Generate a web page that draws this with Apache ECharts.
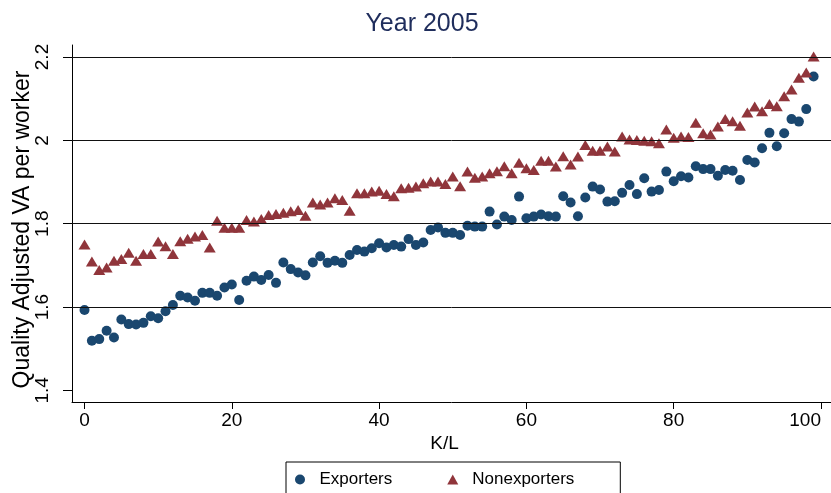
<!DOCTYPE html>
<html>
<head>
<meta charset="utf-8">
<script src="https://cdn.jsdelivr.net/npm/echarts@6/dist/echarts.min.js"></script>
<style>
  html, body { margin: 0; padding: 0; background: #fff; }
  #chart { width: 831px; height: 493px; }
</style>
</head>
<body>
<div id="chart"></div>
<script>
// K/L percentile (x)
const klPercentile = [
  0, 1, 2, 3, 4, 5, 6, 7, 8, 9, 10, 11, 12, 13, 14, 15, 16, 17, 18, 19,
  20, 21, 22, 23, 24, 25, 26, 27, 28, 29, 30, 31, 32, 33, 34, 35, 36, 37, 38, 39,
  40, 41, 42, 43, 44, 45, 46, 47, 48, 49, 50, 51, 52, 53, 54, 55, 56, 57, 58, 59,
  60, 61, 62, 63, 64, 65, 66, 67, 68, 69, 70, 71, 72, 73, 74, 75, 76, 77, 78, 79,
  80, 81, 82, 83, 84, 85, 86, 87, 88, 89, 90, 91, 92, 93, 94, 95, 96, 97, 98, 99
];

// quality adjusted VA per worker
const exporters = [
  1.593, 1.519, 1.523, 1.543, 1.527, 1.570, 1.559, 1.558, 1.562, 1.578,
  1.573, 1.590, 1.605, 1.627, 1.623, 1.615, 1.634, 1.634, 1.627, 1.647,
  1.654, 1.617, 1.663, 1.673, 1.665, 1.677, 1.658, 1.707, 1.691, 1.683,
  1.676, 1.707, 1.722, 1.706, 1.711, 1.706, 1.725, 1.737, 1.733, 1.741,
  1.753, 1.743, 1.749, 1.745, 1.763, 1.749, 1.755, 1.785, 1.791, 1.778,
  1.778, 1.773, 1.795, 1.793, 1.793, 1.829, 1.798, 1.817, 1.809, 1.865,
  1.813, 1.817, 1.822, 1.818, 1.817, 1.866, 1.851, 1.818, 1.863, 1.889,
  1.882, 1.853, 1.854, 1.874, 1.893, 1.871, 1.909, 1.877, 1.881, 1.925,
  1.902, 1.914, 1.911, 1.938, 1.931, 1.931, 1.915, 1.929, 1.927, 1.905,
  1.953, 1.947, 1.981, 2.018, 1.986, 2.017, 2.051, 2.045, 2.075, 2.153
];
const nonexporters = [
  1.750, 1.709, 1.689, 1.695, 1.711, 1.715, 1.730, 1.711, 1.727, 1.727,
  1.757, 1.746, 1.727, 1.758, 1.764, 1.769, 1.773, 1.743, 1.807, 1.790,
  1.790, 1.790, 1.809, 1.805, 1.811, 1.821, 1.823, 1.826, 1.830, 1.833,
  1.819, 1.851, 1.846, 1.851, 1.861, 1.857, 1.831, 1.873, 1.873, 1.877,
  1.879, 1.871, 1.866, 1.885, 1.886, 1.889, 1.897, 1.901, 1.901, 1.895,
  1.913, 1.890, 1.925, 1.910, 1.913, 1.921, 1.926, 1.938, 1.921, 1.946,
  1.933, 1.929, 1.951, 1.951, 1.937, 1.962, 1.942, 1.961, 1.989, 1.975,
  1.975, 1.985, 1.973, 2.009, 2.002, 2.001, 1.999, 1.998, 1.993, 2.026,
  2.006, 2.009, 2.008, 2.042, 2.017, 2.014, 2.033, 2.051, 2.046, 2.035,
  2.067, 2.081, 2.070, 2.087, 2.082, 2.106, 2.122, 2.150, 2.163, 2.201
];

const xTicks = [0, 20, 40, 60, 80, 100];
const yTicks = [1.4, 1.6, 1.8, 2.0, 2.2];
const yGrid = [1.6, 1.8, 2.0, 2.2];

const FONT = 'Liberation Sans';
const navy = '#1a476f';
const maroon = '#90353b';

function pairs(ys) {
  return ys.map((v, i) => [klPercentile[i], v]);
}

let myChart = echarts.init(document.getElementById('chart'), null, { renderer: 'canvas' });

myChart.setOption({
  backgroundColor: '#fff',
  animation: false,
  title: {
    text: 'Year 2005',
    left: 417,
    top: 7,
    textAlign: 'center',
    textStyle: { fontFamily: FONT, fontSize: 25, fontWeight: 'normal', color: '#1f2d5c' }
  },
  legend: {
    data: ['Exporters', 'Nonexporters'],
    left: 286,
    top: 462,
    orient: 'horizontal',
    itemWidth: 11,
    itemHeight: 10,
    itemGap: 55,
    padding: [9, 46, 30, 9],
    borderColor: '#000',
    borderWidth: 1,
    backgroundColor: '#fff',
    textStyle: { fontFamily: FONT, fontSize: 17, color: '#000', padding: [0, 0, 0, 9] }
  },
  grid: { left: 72, right: 0, top: 45, bottom: 91, containLabel: false, outerBoundsMode: 'none' },
  xAxis: {
    type: 'value',
    min: -1.70,
    max: 101.36,
    name: 'K/L',
    nameLocation: 'middle',
    nameGap: 32,
    nameMoveOverlap: false,
    nameTextStyle: { fontFamily: FONT, fontSize: 19, color: '#000', padding: [0, 14, 0, 0] },
    axisLine: { show: true, onZero: false, lineStyle: { color: '#000', width: 1 } },
    axisTick: { show: true, inside: false, length: 7, customValues: xTicks, lineStyle: { color: '#000' } },
    axisLabel: {
      customValues: xTicks, margin: 9, alignMaxLabel: 'right',
      fontFamily: FONT, fontSize: 19, color: '#000'
    },
    splitLine: { show: false }
  },
  yAxis: {
    type: 'value',
    min: 1.3721,
    max: 2.2288,
    name: 'Quality Adjusted VA per worker',
    nameLocation: 'middle',
    nameGap: 38,
    nameRotate: 90,
    nameMoveOverlap: false,
    nameTextStyle: { fontFamily: FONT, fontSize: 23, color: '#000', padding: [0, 12, 0, 0] },
    axisLine: { show: true, onZero: false, lineStyle: { color: '#000', width: 1 } },
    axisTick: { show: true, inside: false, length: 9, customValues: yTicks, lineStyle: { color: '#000' } },
    axisLabel: { customValues: yTicks, rotate: 90, margin: 20, fontFamily: FONT, fontSize: 19, color: '#000' },
    splitLine: { show: false }
  },
  series: [
    {
      name: 'gridlines',
      type: 'scatter',
      data: [],
      z: 1,
      silent: true,
      markLine: {
        silent: true,
        symbol: 'none',
        label: { show: false },
        lineStyle: { color: '#111', width: 1, type: 'solid' },
        data: yGrid.map(v => ({ yAxis: v }))
      }
    },
    {
      name: 'Exporters',
      type: 'scatter',
      symbol: 'circle',
      symbolSize: 10,
      z: 3,
      itemStyle: { color: navy, opacity: 1 },
      data: pairs(exporters)
    },
    {
      name: 'Nonexporters',
      type: 'scatter',
      symbol: 'triangle',
      symbolSize: [12, 10],
      z: 3,
      itemStyle: { color: maroon, opacity: 1 },
      data: pairs(nonexporters)
    }
  ]
});
</script>
</body>
</html>
